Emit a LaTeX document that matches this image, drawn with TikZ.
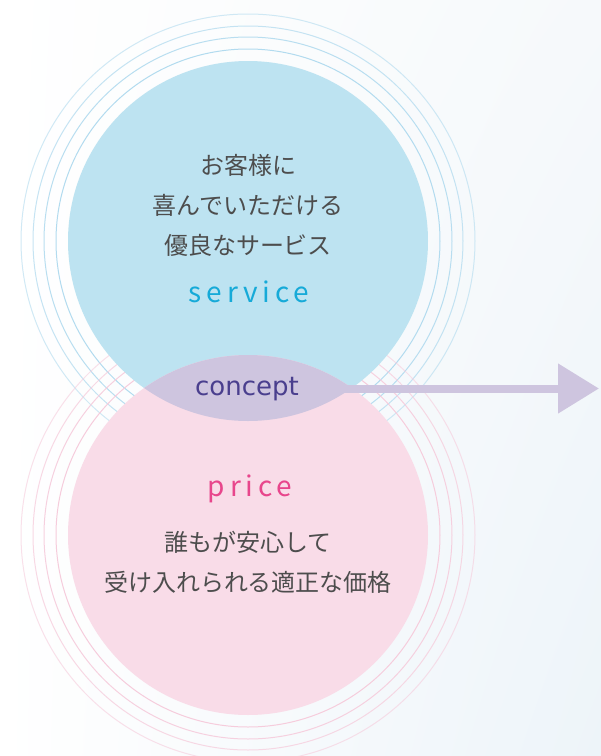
\documentclass[tikz,border=0pt]{standalone}
\usepackage{fontspec}
\setmainfont{Noto Sans CJK JP}
\newfontfamily\latin{DejaVu Sans}
\newfontfamily\spaced[LetterSpace=17]{Noto Sans CJK JP}
\usetikzlibrary{arrows.meta,shadings}

\definecolor{bgtop}{RGB}{246,249,251}
\definecolor{bgblue}{RGB}{237,244,249}
\definecolor{svcfill}{RGB}{189,227,241}
\definecolor{prcfill}{RGB}{249,220,232}
\definecolor{svcring}{RGB}{178,219,239}
\definecolor{prcring}{RGB}{246,204,220}
\definecolor{lensfill}{RGB}{206,197,223}
\definecolor{conceptc}{RGB}{74,63,142}
\definecolor{svctagc}{RGB}{22,170,216}
\definecolor{prctagc}{RGB}{232,70,140}
\definecolor{jpgray}{RGB}{77,77,77}

\tikzset{
  jptext/.style={align=center,inner sep=0pt,text=jpgray,
    font=\fontsize{24}{40}\selectfont},
  tag/.style={anchor=base,inner sep=0pt,font=\spaced\fontsize{28}{30}\selectfont},
  flow/.style={lensfill,line width=8pt,-{Triangle[length=41pt,width=48pt]}}
}

\begin{document}
\begin{tikzpicture}[x=1pt,y=-1pt]
  \shade[upper left=white,lower left=white,upper right=bgtop,lower right=bgblue]
    (0,0) rectangle (601,756);
  \useasboundingbox (0,0) rectangle (601,756);

  \coordinate (svc) at (248,241);
  \coordinate (prc) at (248,535);

  \def\rings#1#2{
    \foreach \r/\o in {192/1,204/.9,215/.75,227/.6}
      \draw[#2,line width=1pt,opacity=\o] (#1) circle (\r);
  }
  \rings{svc}{svcring}
  \rings{prc}{prcring}

  \fill[svcfill] (svc) circle (180);
  \fill[prcfill] (prc) circle (180);
  \begin{scope}
    \clip (svc) circle (180);
    \fill[lensfill] (prc) circle (180);
  \end{scope}

  \node[jptext] (svctext) at (248,205) {お客様に\\喜んでいただける\\優良なサービス};
  \node[tag,text=svctagc] (svctag) at (249,302) {service};
  \node[tag,text=prctagc] (prctag) at (250,496) {price};
  \node[jptext] (prctext) at (248,562) {誰もが安心して\\受け入れられる適正な価格};

  \node[anchor=base,inner sep=0pt,text=conceptc,font=\latin\fontsize{26}{28}\selectfont]
    (concept) at (247,395) {concept};
  \coordinate (tip) at (599,388.5);
  \draw[flow] (concept.east |- tip) -- (tip);
\end{tikzpicture}
\end{document}
